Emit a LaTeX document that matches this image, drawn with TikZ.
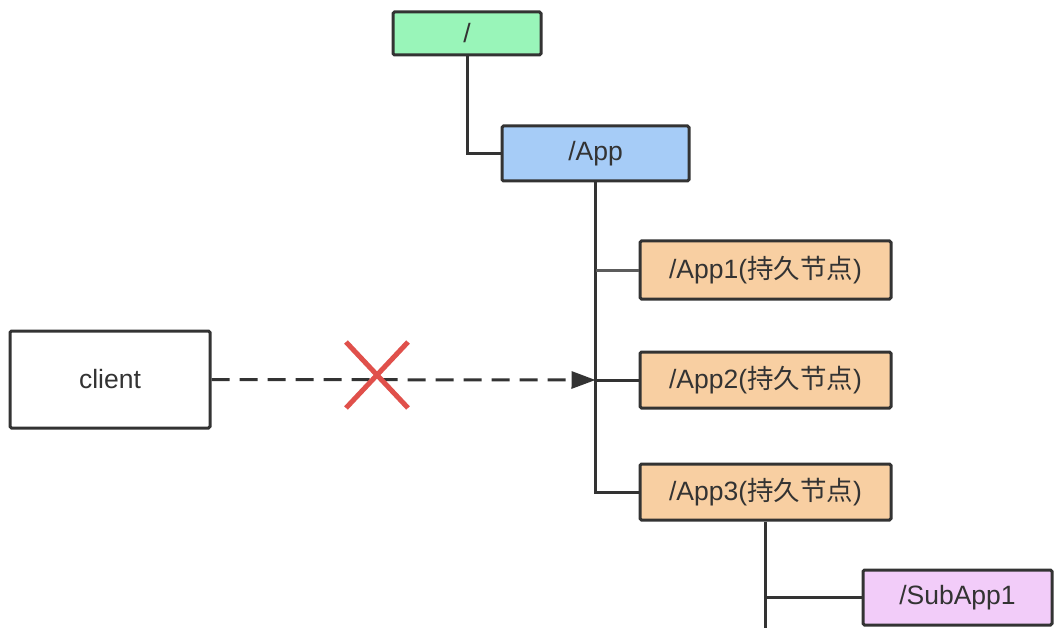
\documentclass[tikz,border=0pt]{standalone}
\usepackage{fontspec}
\setmainfont{Liberation Sans}
\newfontfamily\cjk{Noto Sans CJK SC}
\usetikzlibrary{arrows.meta,calc}
\definecolor{linec}{HTML}{333333}
\definecolor{greenc}{HTML}{99F5B9}
\definecolor{bluec}{HTML}{A6CCF7}
\definecolor{orangec}{HTML}{F8CFA2}
\definecolor{pinkc}{HTML}{F2CCF9}
\definecolor{redc}{HTML}{E0504B}
\begin{document}
\begin{tikzpicture}[x=1pt,y=-1pt,
  box/.style={draw=linec,line width=3pt,rounded corners=1.5pt,inner sep=0pt,
    font=\fontsize{26.5}{30}\selectfont,text=black!80},
  conn/.style={draw=linec,line width=3pt}]
\useasboundingbox[fill=white] (0,0) rectangle (1062,628);
\node[box,fill=greenc,minimum width=148pt,minimum height=43pt] (root) at (467,33.5) {/};
\node[box,fill=bluec,minimum width=187pt,minimum height=55pt] (app) at (595.5,153.5) {/App};
\node[box,fill=orangec,minimum width=251pt,minimum height=58pt] (app1) at (765.5,270) {/App1({\cjk 持久节点})};
\node[box,fill=orangec,minimum width=251pt,minimum height=56pt] (app2) at (765.5,380) {/App2({\cjk 持久节点})};
\node[box,fill=orangec,minimum width=251pt,minimum height=56pt] (app3) at (765.5,492) {/App3({\cjk 持久节点})};
\node[box,fill=pinkc,minimum width=189pt,minimum height=55pt] (sub) at (957.5,597.5) {/SubApp1};
\node[box,fill=white,minimum width=200pt,minimum height=97pt] (client) at (110,379.5) {client};
\coordinate (bot) at (766,630);
\coordinate (xc) at (377,375);
% connectors
\draw[conn] (root.south) |- (app.west);
\draw[conn] (app.south) |- (app3.west);
\draw[conn,draw=linec!80] (app.south |- app1.west) -- (app1.west);
\draw[conn] (app.south |- app2.west) -- (app2.west);
\draw[conn] (app3.south) -- (app3.south |- bot);
\draw[conn] (app3.south |- sub.west) -- (sub.west);
\draw[conn,dash pattern=on 18pt off 10pt,-{Triangle[length=24pt,width=17pt]}]
  (client.east) -- (app.south |- app2.west);
% red cross
\draw[redc,line width=5pt] ($(xc)+(-31,-33)$) -- ($(xc)+(31,33)$);
\draw[redc,line width=5pt] ($(xc)+(31,-33)$) -- ($(xc)+(-31,33)$);
\end{tikzpicture}
\end{document}
